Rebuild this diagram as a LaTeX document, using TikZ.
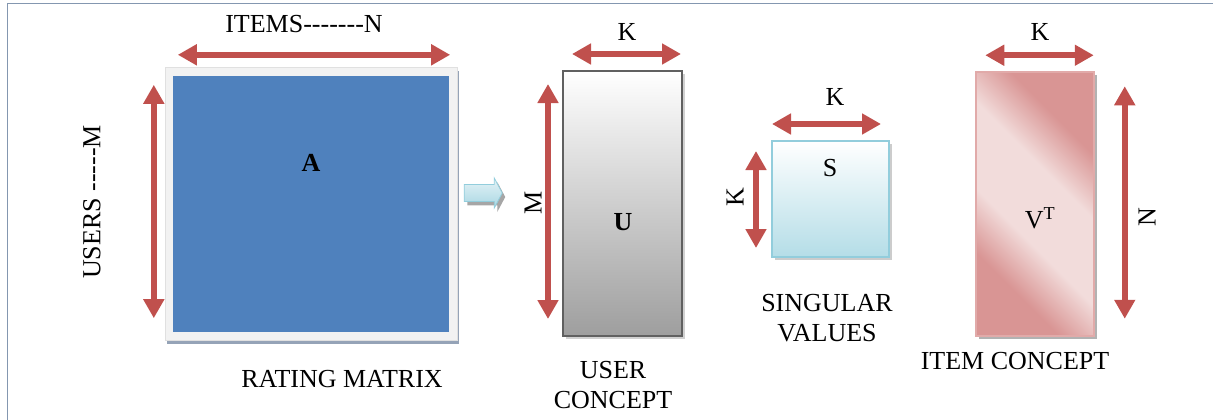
\documentclass[tikz,border=0pt]{standalone}
\usepackage{fontspec}
\setmainfont{Liberation Serif}
\usepackage{tikz}
\usetikzlibrary{arrows.meta,shapes.arrows,shadows}
\definecolor{dimred}{HTML}{C0504D}
\definecolor{ablue}{HTML}{4F81BD}
\definecolor{aframe}{HTML}{F2F2F2}
\definecolor{ashadow}{HTML}{95A3B7}
\definecolor{uborder}{HTML}{606060}
\definecolor{ubottom}{HTML}{9E9E9E}
\definecolor{sborder}{HTML}{92CDDC}
\definecolor{sbottom}{HTML}{B4DDE7}
\definecolor{vdark}{HTML}{D99594}
\definecolor{vlight}{HTML}{F2DCDB}
\definecolor{frameline}{HTML}{8497B0}
\pgfdeclarehorizontalshading{itemshade}{100bp}{color(0bp)=(vdark); color(30bp)=(vdark); color(42bp)=(vlight); color(58bp)=(vlight); color(70bp)=(vdark); color(100bp)=(vdark)}
\tikzstyle{lbl}=[inner sep=0pt, font=\fontsize{26}{30}\selectfont]
\tikzstyle{dimarrow}=[dimred, line width=6pt, {Triangle[width=20pt,length=19pt]}-{Triangle[width=20pt,length=19pt]}]
\tikzstyle{matrixbox}=[rectangle, inner sep=0pt]
\tikzstyle{ratingbox}=[matrixbox, fill=ablue, minimum width=276pt, minimum height=256pt]
\tikzstyle{userbox}=[matrixbox, draw=uborder, line width=2pt, top color=white, bottom color=ubottom, minimum width=119pt, minimum height=265pt,
    drop shadow={shadow xshift=3pt, shadow yshift=-3pt, opacity=1, fill=black!18}]
\tikzstyle{singbox}=[matrixbox, draw=sborder, line width=2pt, top color=white, middle color=sbottom!55, bottom color=sbottom, minimum width=117pt, minimum height=116pt,
    drop shadow={shadow xshift=3pt, shadow yshift=-3pt, opacity=1, fill=black!20}]
\tikzstyle{itembox}=[matrixbox, draw=vdark!80, line width=1.5pt, shading=itemshade, shading angle=45, minimum width=118pt, minimum height=264pt,
    drop shadow={shadow xshift=3pt, shadow yshift=-3pt, opacity=1, fill=black!30}]

\begin{document}
\begin{tikzpicture}[x=1pt, y=-1pt]
    \useasboundingbox (0,0) rectangle (1213,420);
    \draw[frameline, line width=0.9pt] (7,420) -- (7,3) -- (1213,3);

    % rating matrix
    \node[matrixbox, fill=aframe, draw=black!12, minimum width=292pt, minimum height=273pt,
          drop shadow={shadow xshift=2pt, shadow yshift=-4pt, opacity=1, fill=ashadow}] (Aframe) at (311,203.5) {};
    \node[ratingbox] (A) at (311,204) {};
    \node[lbl, font=\fontsize{26}{30}\selectfont\bfseries] (Alabel) at (311,163) {A};
    \draw[dimarrow] ([shift={(13,-12)}]Aframe.north west) -- ([shift={(-7,-12)}]Aframe.north east);
    \draw[dimarrow] ([shift={(-11,18)}]Aframe.north west) -- ([shift={(-11,-22)}]Aframe.south west);
    \node[lbl] (items) at (304,24) {ITEMS-{}-{}-{}-{}-{}-{}-N};
    \node[lbl, rotate=90] (users) at (92,202) {USERS -{}-{}-{}-{}-M};
    \node[lbl] (rating) at (342,379) {RATING MATRIX};

    % block arrow
    \node[single arrow, draw=sborder, line width=0.8pt, top color=sborder!25, bottom color=sborder!80,
          minimum height=38pt, minimum width=30pt, inner sep=8pt, single arrow head extend=6.5pt,
          single arrow tip angle=124,
          drop shadow={shadow xshift=3pt, shadow yshift=-4pt, opacity=1, fill=black!35}] (arr) at (481,193) {};

    % user concept
    \node[userbox] (U) at (622.5,203.5) {};
    \node[lbl, font=\fontsize{26}{30}\selectfont\bfseries] (Ulabel) at (623,222) {U};
    \draw[dimarrow] ([shift={(10,-16)}]U.north west) -- ([shift={(-2,-16)}]U.north east);
    \draw[dimarrow] ([shift={(-14,14)}]U.north west) -- ([shift={(-14,-18)}]U.south west);
    \node[lbl] (Uk) at (627,32) {K};
    \node[lbl, rotate=90] (Um) at (533,203) {M};
    \node[lbl, align=center] (user) at (613,385) {USER\\CONCEPT};

    % singular values
    \node[singbox] (S) at (830.5,199) {};
    \node[lbl] (Slabel) at (830,168) {S};
    \draw[dimarrow] ([shift={(1,-16)}]S.north west) -- ([shift={(-9,-16)}]S.north east);
    \draw[dimarrow] ([shift={(-15,11)}]S.north west) -- ([shift={(-15,-10)}]S.south west);
    \node[lbl] (Sk) at (835,97) {K};
    \node[lbl, rotate=90] (Sk2) at (735,197) {K};
    \node[lbl, align=center] (sing) at (827,318) {SINGULAR\\VALUES};

    % item concept
    \node[itembox] (VT) at (1035,204) {};
    \node[lbl] (VTlabel) at (1040,218) {V\textsuperscript{T}};
    \draw[dimarrow] ([shift={(10,-16)}]VT.north west) -- ([shift={(-1,-16)}]VT.north east);
    \draw[dimarrow] ([shift={(30,15)}]VT.north east) -- ([shift={(30,-18)}]VT.south east);
    \node[lbl] (VTk) at (1040,32) {K};
    \node[lbl, rotate=90] (VTn) at (1147,217) {N};
    \node[lbl] (item) at (1015,361) {ITEM CONCEPT};
\end{tikzpicture}
\end{document}
